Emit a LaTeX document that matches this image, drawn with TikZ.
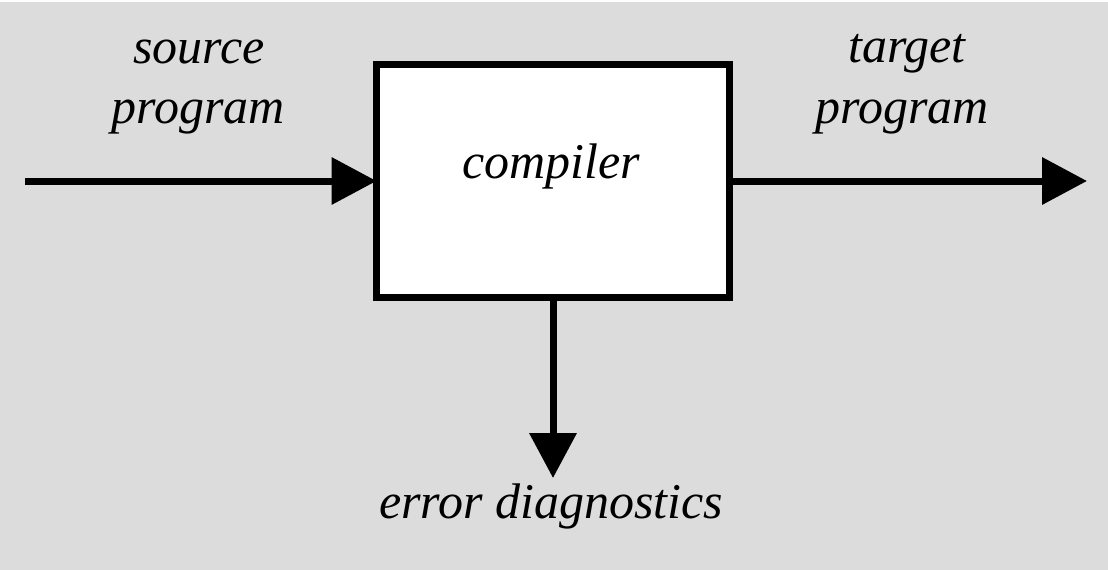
\documentclass[tikz,border=0pt]{standalone}
\usepackage{fontspec}
\setmainfont{Liberation Serif}
\usetikzlibrary{arrows.meta}
\definecolor{bg}{HTML}{DCDCDC}
\begin{document}
\begin{tikzpicture}[x=1pt,y=-1pt,
  lbl/.style={font=\fontsize{50}{58}\selectfont\itshape, inner sep=0pt, anchor=base},
  box/.style={draw=black, fill=white, line width=7pt, minimum width=353pt, minimum height=233pt, outer sep=0pt, inner sep=0pt},
  arr/.style={line width=7pt, -{Triangle[length=45pt,width=46pt]}}]
\fill[white] (0,0) rectangle (1108,570);
\fill[bg] (0,2) rectangle (1108,570);
\useasboundingbox (0,0) rectangle (1108,570);
\node[box] (comp) at (553,181) {};
\node[lbl] (complbl) at (551,178) {compiler};
\node[lbl] (src1) at (199,63) {source};
\node[lbl] (src2) at (198,123) {program};
\node[lbl] (tgt1) at (907,62) {target};
\node[lbl] (tgt2) at (902,123) {program};
\node[lbl] (err) at (551,518) {error diagnostics};
\coordinate (in) at (25,181);
\coordinate (out) at (1087,181);
\coordinate (down) at (553,478);
\draw[arr] (in) -- (comp.west);
\draw[arr] (comp.east) -- (out);
\draw[arr] (comp.south) -- (down);
\end{tikzpicture}
\end{document}
